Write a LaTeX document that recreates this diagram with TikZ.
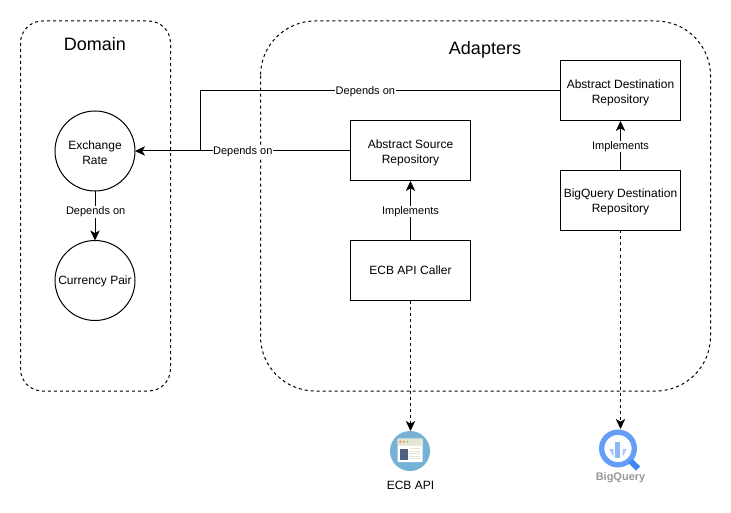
\documentclass[tikz,border=0pt]{standalone}
\usepackage{fontspec}
\setmainfont{Liberation Sans}
\usetikzlibrary{arrows.meta,calc}
\definecolor{ecbblue}{HTML}{75B2D5}
\definecolor{ecbbar}{HTML}{E6E4D4}
\definecolor{ecbdark}{HTML}{4D6180}
\definecolor{bqlight}{HTML}{669DF6}
\definecolor{bqmid}{HTML}{4285F4}
\definecolor{bqpale}{HTML}{AECBFA}
\definecolor{bqtext}{HTML}{999999}
\newcommand{\lowerone}{\rule{0pt}{8.8pt}}
\tikzset{
  x=0.75pt,y=-0.75pt,
  every node/.style={font=\fontsize{9}{11.25}\selectfont,inner sep=0pt,outer sep=0pt},
  zone/.style={draw=black,line width=0.75pt,dash pattern=on 2.25pt off 2.25pt},
  boxnode/.style={draw=black,line width=0.75pt,fill=white,minimum width=90pt,minimum height=45pt,align=center},
  roundnode/.style={draw=black,line width=0.75pt,circle,fill=white,minimum size=60pt,align=center},
  solidlink/.style={draw=black,line width=0.75pt,-{Stealth[length=7.5pt,width=7pt,inset=2pt]}},
  dashlink/.style={solidlink,dash pattern=on 2.25pt off 2.25pt},
  linklabel/.style={font=\fontsize{8.25}{9.5}\selectfont,fill=white,inner sep=0.4pt},
  title/.style={font=\fontsize{13.5}{15}\selectfont},
}
\begin{document}
\begin{tikzpicture}
\useasboundingbox (0,0) rectangle (731,513);
\fill[white] (0,0) rectangle (731,513);
% containers
\draw[zone,rounded corners=16.5pt] (20.5,21) rectangle (170.5,391);
\draw[zone,rounded corners=41pt] (260.5,21) rectangle (710.5,391);
\node[title] (domaint) at (95,44) {Domain};
\node[title] (adapterst) at (485,49.5) {Adapters};
% nodes
\node[roundnode] (rate) at (95,151) {\lowerone Exchange\\Rate};
\node[roundnode] (pair) at (95,280.5) {\rule{0pt}{8pt}Currency Pair};
\node[boxnode] (src) at (410.5,151) {\lowerone Abstract Source\\Repository};
\node[boxnode] (caller) at (410.5,270.5) {ECB API Caller};
\node[boxnode] (dst) at (620.5,91) {\lowerone Abstract Destination\\Repository};
\node[boxnode] (bq) at (620.5,200.5) {\lowerone BigQuery Destination\\Repository};
% ECB API icon
\node[circle,fill=ecbblue,minimum size=30pt] (ecbicon) at (410,451) {};
\fill[white,rounded corners=0.5pt] (397.5,438.5) rectangle (422.5,462);
\fill[ecbbar,rounded corners=0.5pt] (397.5,438.5) rectangle (422.5,445.5);
\fill[red!70!orange!70] (400.3,441.7) circle (1.2);
\fill[orange!80] (403.8,441.7) circle (1.2);
\fill[green!50!teal!50] (407.3,441.7) circle (1.2);
\fill[ecbdark] (400,448.5) rectangle (407.5,460);
\foreach \yy in {448.5,451,453.5,456,458.5} \draw[ecbbar,line width=0.5pt] (409.5,\yy) -- (420,\yy);
\node (ecblabel) at (410.5,485) {ECB API};
% BigQuery icon
\node[circle,draw=bqlight,line width=4pt,minimum size=24.5pt,fill=white] (bqicon) at (618,448.5) {};
\draw[bqmid,line width=4.5pt] (630.5,461) -- (638,468.5);
\fill[bqpale] (609,449) -- (613.5,449) -- (613.5,457) -- cycle;
\fill[bqpale] (627,449) -- (622.5,449) -- (622.5,457) -- cycle;
\fill[bqmid!60] (615,442) rectangle (620,457.5);
\node[font=\fontsize{8.25}{9.5}\selectfont\bfseries,text=bqtext] (bqlabel) at (620.5,478) {BigQuery};
% connectors
\coordinate (bend) at (200.5,91);
\coordinate (bend2) at (200.5,151);
\draw[draw=black,line width=0.75pt] (dst.west) -- node[linklabel,pos=0.542,yshift=-0.25pt] (l2) {Depends on} (bend) -- (bend2);
\draw[solidlink] (src.west) -- node[linklabel,pos=0.5,yshift=-0.4pt] (l1) {Depends on} (rate.east);
\draw[solidlink] (rate.south) -- node[linklabel,pos=0.5,yshift=2.75pt,xshift=0.5pt] (l3) {Depends on} (pair.north);
\draw[solidlink] (caller.north) -- node[linklabel,yshift=-0.75pt] (l4) {Implements} (src.south);
\draw[solidlink] (bq.north) -- node[linklabel,yshift=-0.5pt] (l5) {Implements} (dst.south);
\draw[dashlink] (caller.south) -- (ecbicon.north -| caller.south);
\draw[dashlink] (bq.south) -- (620.5,429);
\end{tikzpicture}
\end{document}
